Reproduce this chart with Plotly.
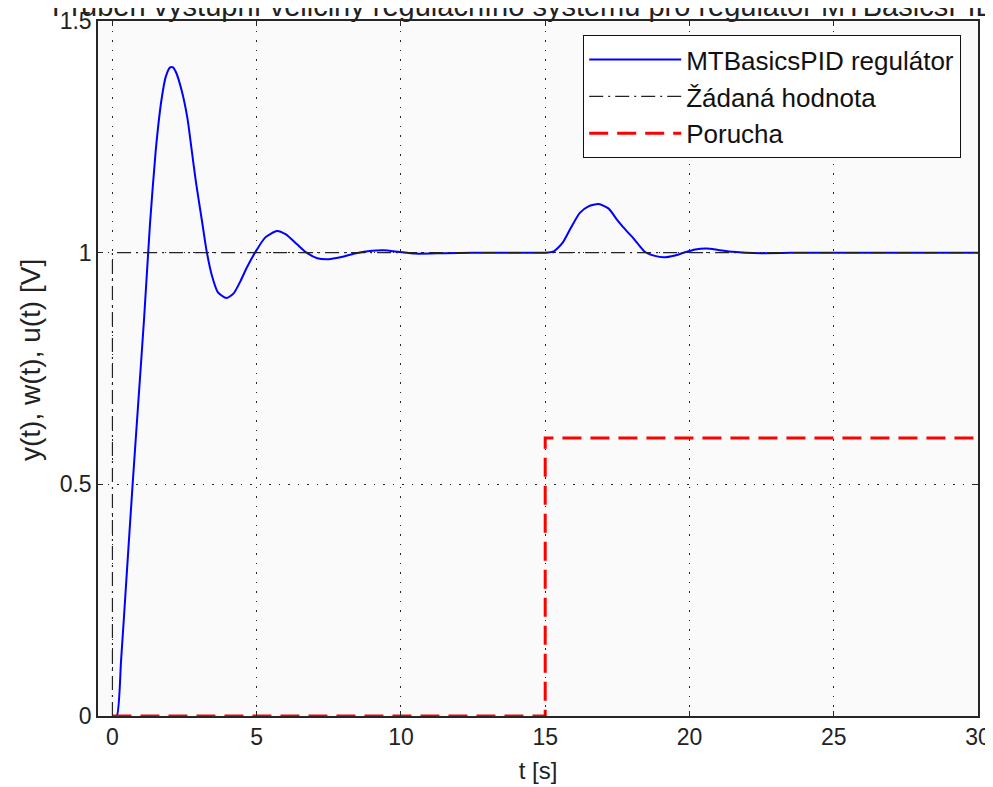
import plotly.graph_objects as go

# ---- data ----
t_y = [0, 0.15, 0.3, 0.5, 0.7, 0.9, 1.1, 1.3, 1.5, 1.7, 1.85, 2.0, 2.1, 2.2, 2.4, 2.6,
       2.75, 2.9, 3.1, 3.26, 3.45, 3.65, 3.95, 4.2, 4.45, 4.65, 5.0, 5.3, 5.7, 6.0, 6.4,
       6.73, 7.1, 7.5, 7.9, 8.4, 9.0, 9.4, 9.9, 10.5, 11.5, 12.5, 13.5, 14.5, 15.0,
       15.3, 15.6, 15.9, 16.2, 16.5, 16.85, 17.2, 17.5, 17.7, 18.0, 18.2, 18.45, 18.8,
       19.1, 19.5, 19.8, 20.2, 20.6, 21.0, 21.5, 22.5, 24, 25.5, 27, 28.5, 30]
y_out = [0, 0, 0.12, 0.31, 0.5, 0.68, 0.86, 1.06, 1.22, 1.33, 1.38, 1.40, 1.40, 1.39, 1.35, 1.29,
         1.22, 1.15, 1.07, 1.005, 0.95, 0.915, 0.902, 0.912, 0.94, 0.967, 1.006, 1.033, 1.047, 1.04, 1.018,
         1.0, 0.988, 0.986, 0.99, 0.998, 1.004, 1.005, 1.002, 0.998, 0.999, 1.0, 1.0, 1.0, 1.0,
         1.003, 1.021, 1.055, 1.086, 1.10, 1.105, 1.095, 1.07, 1.055, 1.035, 1.02, 1.002, 0.993,
         0.99, 0.994, 1.0, 1.007, 1.009, 1.006, 1.002, 0.999, 1.0, 1.0, 1.0, 1.0, 1.0]

t_w = [0, 0, 30]
w_set = [0, 1, 1]

t_u = [0, 15, 15, 30]
u_dist = [0, 0, 0.6, 0.6]

x_ticks = [0, 5, 10, 15, 20, 25, 30]
y_ticks = [0, 0.5, 1, 1.5]
y_tick_labels = ["0", "0.5", "1", "1.5"]

title_text = "Průběh výstupní veličiny regulačního systému pro regulátor MTBasicsPID"
y_title = "y(t), w(t), u(t) [V]"
x_title = "t [s]"
names = ["MTBasicsPID regulátor", "Žádaná hodnota", "Porucha"]

FONT = "Liberation Sans"
TXT = "#222222"

# page body offset (~8px) compensation: target plot area x 98..978, y 21..716
L, R, T, B = 90, 23, 13, 79
PW, PH = 993 - L - R, 787 - T - B

fig = go.Figure()
fig.add_trace(go.Scatter(x=t_y, y=y_out, mode="lines", name=names[0],
                         line=dict(color="#0000ff", width=2, shape="spline", smoothing=0.6)))
fig.add_trace(go.Scatter(x=t_w, y=w_set, mode="lines", name=names[1],
                         line=dict(color="#222222", width=1.2, dash="14px,5px,2px,5px")))
fig.add_trace(go.Scatter(x=t_u, y=u_dist, mode="lines", name=names[2],
                         line=dict(color="#ff0000", width=3, dash="19px,9px")))

axis_common = dict(
    showline=True, linecolor="#262626", linewidth=1.5, mirror="allticks",
    ticks="inside", ticklen=5, tickcolor="#262626",
    showgrid=True, gridcolor="#222222", gridwidth=1, griddash="1.5px,8px",
    zeroline=False, automargin=False,
    tickfont=dict(family=FONT, size=23, color=TXT),
)

fig.update_xaxes(range=[-0.5, 30], tickvals=x_ticks,
                 title=dict(text=x_title, font=dict(family=FONT, size=24, color=TXT), standoff=13),
                 **axis_common)
fig.update_yaxes(range=[0, 1.5], tickvals=y_ticks, ticktext=y_tick_labels, **axis_common)

# y-axis label placed as rotated text, left of the tick labels
fig.add_annotation(text=y_title, xref="paper", yref="paper",
                   x=(22 - 90) / PW, y=(695 - 339) / PH, xanchor="center", yanchor="middle",
                   textangle=-90, showarrow=False, font=dict(family=FONT, size=28, color=TXT))

# title, partly cut by the top edge as in the reference
fig.add_annotation(text=title_text, xref="paper", yref="paper",
                   x=(42 - 90) / PW, y=1 + 15 / PH, xanchor="left", yanchor="middle",
                   showarrow=False, font=dict(family=FONT, size=29, color=TXT))

fig.update_layout(
    width=993, height=787,
    margin=dict(l=L, r=R, t=T, b=B),
    paper_bgcolor="white", plot_bgcolor="#fafafa",
    showlegend=True,
    legend=dict(x=(575 - 90) / PW, y=1 - 14 / PH, xanchor="left", yanchor="top",
                bgcolor="white", bordercolor="#111111", borderwidth=1.2,
                font=dict(family=FONT, size=26, color="#111111"),
                itemwidth=92, tracegroupgap=0),
)

fig.write_html("out.html")
